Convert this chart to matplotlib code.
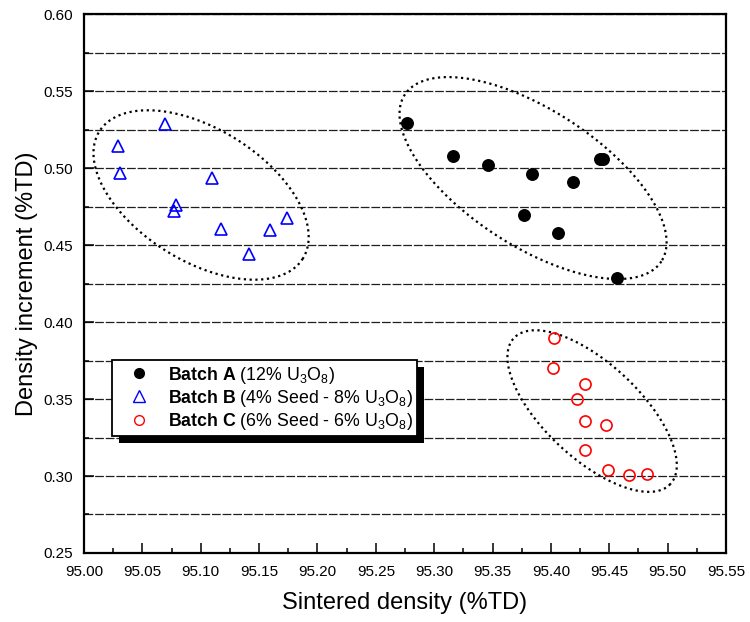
import numpy as np
import matplotlib
matplotlib.use("Agg")
import matplotlib.pyplot as plt
from matplotlib.lines import Line2D
from matplotlib.patches import Rectangle
from matplotlib.transforms import IdentityTransform

plt.rcParams['font.family'] = ['Liberation Sans', 'DejaVu Sans']
plt.rcParams['mathtext.fontset'] = 'custom'
plt.rcParams['mathtext.rm'] = 'Liberation Sans'
plt.rcParams['mathtext.bf'] = 'Liberation Sans:bold'
plt.rcParams['mathtext.it'] = 'Liberation Sans:italic'

# ---- data ----
batch_a_x = [95.277, 95.316, 95.346, 95.384, 95.419, 95.442, 95.445, 95.377, 95.406, 95.457]
batch_a_y = [0.5296, 0.5079, 0.5023, 0.4964, 0.4910, 0.5062, 0.5062, 0.4694, 0.4581, 0.4289]

batch_b_x = [95.069, 95.029, 95.031, 95.110, 95.079, 95.077, 95.117, 95.159, 95.174, 95.141]
batch_b_y = [0.5290, 0.5146, 0.4967, 0.4938, 0.4761, 0.4724, 0.4607, 0.4598, 0.4676, 0.4441]

batch_c_x = [95.403, 95.402, 95.429, 95.422, 95.429, 95.447, 95.429, 95.449, 95.467, 95.482]
batch_c_y = [0.3895, 0.3700, 0.3598, 0.3500, 0.3357, 0.3331, 0.3169, 0.3039, 0.3009, 0.3013]

labels = [r"$\mathbf{Batch\ A}$ (12% U$_3$O$_8$)",
          r"$\mathbf{Batch\ B}$ (4% Seed - 8% U$_3$O$_8$)",
          r"$\mathbf{Batch\ C}$ (6% Seed - 6% U$_3$O$_8$)"]

x_ticks = [95.00, 95.05, 95.10, 95.15, 95.20, 95.25, 95.30, 95.35, 95.40, 95.45, 95.50, 95.55]
y_ticks = [0.25, 0.30, 0.35, 0.40, 0.45, 0.50, 0.55, 0.60]

# group ellipses: center x, center y (data), semi-axes (px), tilt (deg, down-right)
ellipse_cx = [95.3847, 95.1003, 95.4353]
ellipse_cy = [0.4936, 0.4826, 0.3422]
ellipse_a = [153, 120, 107]
ellipse_b = [68, 66, 47.5]
ellipse_tilt = [33, 32, 43]

# ---- figure ----
fig = plt.figure(figsize=(7.5, 6.22), dpi=100)
ax = fig.add_axes([0.112, 0.111, 0.856, 0.866])
xmin, xmax, ymin, ymax = 95.00, 95.55, 0.25, 0.60
ax.set_xlim(xmin, xmax)
ax.set_ylim(ymin, ymax)

ax.set_xticks(x_ticks)
ax.set_xticklabels([f"{v:.2f}" for v in x_ticks])
ax.set_xticks(np.arange(95.025, 95.55, 0.05), minor=True)
ax.set_yticks(y_ticks)
ax.set_yticklabels([f"{v:.2f}" for v in y_ticks])
ax.set_yticks(np.arange(0.275, 0.60, 0.05), minor=True)

ax.tick_params(axis='both', which='major', direction='in', length=7, width=1.1,
               labelsize=11, colors='black')
ax.tick_params(axis='both', which='minor', direction='in', length=3.6, width=1.1)
ax.tick_params(axis='x', which='major', pad=9)
ax.tick_params(axis='y', which='major', pad=8)

for s in ax.spines.values():
    s.set_linewidth(1.6)

# horizontal dashed grid at each 0.025
ax.grid(axis='y', which='both', linestyle=(0, (7, 1.5)), color='0.12', linewidth=0.9)
ax.set_axisbelow(True)

ax.set_xlabel("Sintered density (%TD)", fontsize=17, labelpad=9)
ax.set_ylabel("Density increment (%TD)", fontsize=17, labelpad=4)

# ellipses
ax_w_px = 0.856 * 750
ax_h_px = 0.866 * 622
sx = ax_w_px / (xmax - xmin)
sy = ax_h_px / (ymax - ymin)
t = np.linspace(0, 2 * np.pi, 400)
for cx, cy, a, b, th in zip(ellipse_cx, ellipse_cy, ellipse_a, ellipse_b, ellipse_tilt):
    r = np.deg2rad(th)
    dx = a * np.cos(t) * np.cos(r) - b * np.sin(t) * np.sin(r)
    dy = a * np.cos(t) * np.sin(r) + b * np.sin(t) * np.cos(r)
    ax.plot(cx + dx / sx, cy - dy / sy, color='black', linestyle=(0, (1, 1.6)),
            linewidth=1.6, zorder=3)

# points
ax.plot(batch_a_x, batch_a_y, 'o', ms=8.3, color='black', mec='black', zorder=4)
ax.plot(batch_b_x, batch_b_y, '^', ms=9.3, mfc='none', mec='#0000ff', mew=1.2, zorder=4)
ax.plot(batch_c_x, batch_c_y, 'o', ms=8, mfc='none', mec='#ff0000', mew=1.2, zorder=4)

handles = [Line2D([], [], ls='none', marker='o', ms=7, color='black'),
           Line2D([], [], ls='none', marker='^', ms=8, mfc='none', mec='#0000ff', mew=1.0),
           Line2D([], [], ls='none', marker='o', ms=7, mfc='none', mec='#ff0000', mew=1.0)]
leg = ax.legend(handles, labels, loc='upper left', bbox_to_anchor=(0.0436, 0.358),
                borderaxespad=0, fancybox=False, framealpha=1, edgecolor='black',
                fontsize=12.8, handlelength=2.5, handletextpad=0.4, labelspacing=0.12,
                borderpad=0.25)
leg.get_frame().set_linewidth(1.3)
leg.set_zorder(6)

fig.canvas.draw()
bb = leg.get_window_extent()
shadow = Rectangle((bb.x0 + 7, bb.y0 - 7), bb.width, bb.height, transform=IdentityTransform(),
                   facecolor='black', edgecolor='none', clip_on=False, zorder=5.5)
ax.add_patch(shadow)

fig.savefig("out.png", dpi=100)
